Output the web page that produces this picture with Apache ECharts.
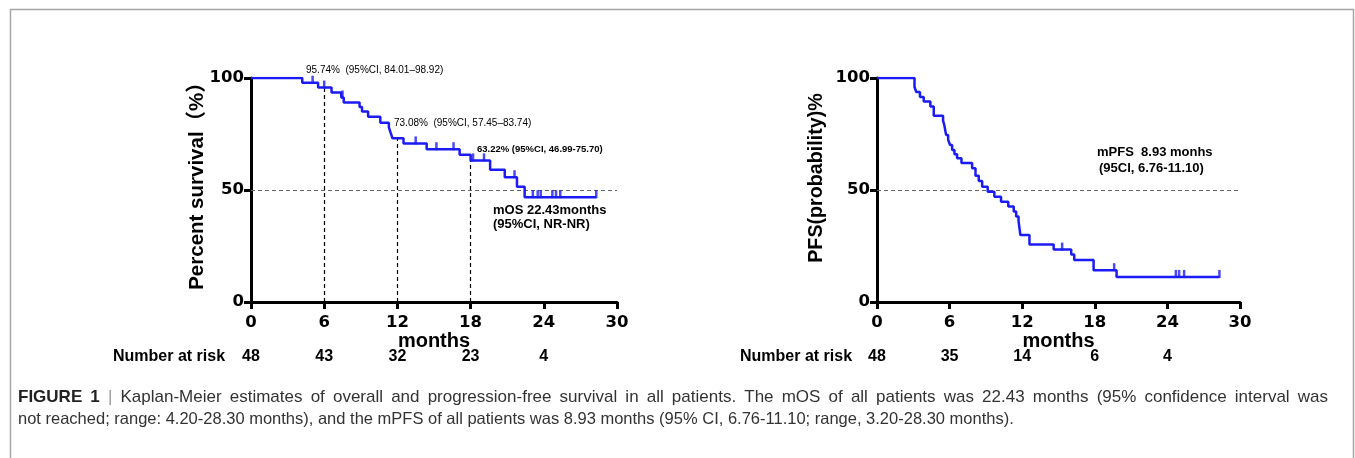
<!DOCTYPE html>
<html>
<head>
<meta charset="utf-8">
<script src="https://cdn.jsdelivr.net/npm/echarts@6/dist/echarts.min.js"></script>
<style>
  html, body { margin: 0; padding: 0; background: #fff; }
  #main { width: 1355px; height: 458px; }
</style>
</head>
<body>
<div id="main"></div>
<script>
// x axis ticks (months)
var xTicks = [0, 6, 12, 18, 24, 30];

// overall survival: event times and survival after each event
var osTimes = [0, 4.2, 5.5, 6.6, 7.4, 7.6, 8.9, 9.1, 9.6, 10.6, 11.3, 11.45, 11.6, 12.5, 14.4, 17.1, 18.0, 19.6, 20.8, 21.8, 22.43];
var osSurv  = [100, 97.9, 95.74, 93.5, 91.3, 89.1, 87.1, 85.0, 82.7, 80.0, 78.0, 75.5, 73.08, 70.8, 68.2, 65.7, 63.22, 59.0, 55.7, 51.5, 46.8];
var osEnd = 28.3;
var osCensor = [5.05, 6.0, 7.5, 13.5, 15.2, 16.6, 18.2, 19.1, 21.6, 23.1, 23.5, 23.75, 24.7, 25.0, 25.35, 28.3];
var osRisk = [48, 43, 32, 23, 4];
// landmark estimates drawn with dashed drops
var osLandmarks = [6, 12, 18];

// progression-free survival
var pfsTimes = [0, 3.1, 3.25, 3.55, 3.86, 4.41, 4.69, 5.46, 5.57, 5.71, 5.88, 6.04, 6.21, 6.4, 6.62, 6.98, 7.86, 8.14, 8.41, 8.69, 9.15, 9.7, 10.25, 10.85, 11.3, 11.5, 11.7, 11.85, 12.6, 14.6, 16.05, 16.3, 17.9, 19.8];
var pfsSurv  = [100, 96.0, 93.7, 91.5, 89.5, 87.3, 83.1, 81.0, 78.8, 74.6, 72.4, 70.1, 67.9, 66.0, 64.2, 62.0, 59.7, 56.4, 54.0, 51.5, 49.2, 47.0, 44.8, 42.6, 40.4, 38.2, 36.0, 29.9, 25.7, 23.4, 21.2, 18.7, 14.2, 11.2];
var pfsEnd = 28.3;
var pfsCensor = [15.3, 19.6, 24.7, 24.97, 25.38, 28.3];
var pfsRisk = [48, 35, 14, 6, 4];

var BLUE = '#1b1bf5';
var FONT = 'Liberation Sans, Arial, Noto Sans CJK SC, sans-serif';
var TICKFONT = 'DejaVu Sans, Liberation Sans, sans-serif';

function stepAt(times, surv, t) {
  var v = surv[0];
  for (var i = 0; i < times.length; i++) {
    if (times[i] <= t) v = surv[i];
  }
  return v;
}

function curve(times, surv, end) {
  var d = times.map(function (t, i) { return [t, surv[i]]; });
  d.push([end, surv[surv.length - 1]]);
  return d;
}

function censorPts(times, surv, list) {
  return list.map(function (t) { return [t, stepAt(times, surv, t)]; });
}

function xAxisOf(gi) {
  return {
    gridIndex: gi, type: 'value', min: 0, max: 30, interval: 6,
    name: 'months', nameLocation: 'middle', nameGap: 29,
    nameTextStyle: { fontFamily: FONT, fontWeight: 'bold', fontSize: 20, color: '#000' },
    axisLine: { lineStyle: { color: '#000', width: 3 } },
    axisTick: { length: 7, lineStyle: { color: '#000', width: 3 } },
    axisLabel: { fontFamily: TICKFONT, fontWeight: 'bold', fontSize: 16.5, color: '#000', margin: 12 },
    splitLine: { show: false }
  };
}

function yAxisOf(gi) {
  return {
    gridIndex: gi, type: 'value', min: 0, max: 100, interval: 50,
    axisLine: { lineStyle: { color: '#000', width: 3 } },
    axisTick: { length: 7, lineStyle: { color: '#000', width: 3 } },
    axisLabel: { fontFamily: TICKFONT, fontWeight: 'bold', fontSize: 16.5, color: '#000', margin: 7 },
    splitLine: { show: false }
  };
}

var half = [[{ coord: [0, 50], lineStyle: { color: '#666', type: [4, 3], width: 1 } }, { coord: [30, 50] }]];

var osDrops = osLandmarks.map(function (t) {
  return [{ coord: [t, 0], lineStyle: { color: '#000', type: [4, 3], width: 1.2 } },
          { coord: [t, stepAt(osTimes, osSurv, t)] }];
});

var option = {
  backgroundColor: '#fff',
  animation: false,
  grid: [
    { left: 251, top: 78, width: 366, height: 224, outerBoundsMode: 'none' },
    { left: 877, top: 78, width: 363, height: 224, outerBoundsMode: 'none' }
  ],
  xAxis: [xAxisOf(0), xAxisOf(1)],
  yAxis: [yAxisOf(0), yAxisOf(1)],
  series: [
    {
      type: 'line', xAxisIndex: 0, yAxisIndex: 0, step: 'end', symbol: 'none',
      data: curve(osTimes, osSurv, osEnd), z: 3,
      lineStyle: { color: BLUE, width: 2.5 },
      markLine: { silent: true, symbol: ['none', 'none'], label: { show: false }, data: half.concat(osDrops), z: 1 }
    },
    {
      type: 'scatter', xAxisIndex: 0, yAxisIndex: 0, symbol: 'rect', symbolSize: [2.5, 8], symbolOffset: [0, -3],
      itemStyle: { color: BLUE }, data: censorPts(osTimes, osSurv, osCensor), z: 4
    },
    {
      type: 'line', xAxisIndex: 1, yAxisIndex: 1, step: 'end', symbol: 'none',
      data: curve(pfsTimes, pfsSurv, pfsEnd), z: 3,
      lineStyle: { color: BLUE, width: 2.5 },
      markLine: { silent: true, symbol: ['none', 'none'], label: { show: false }, data: half, z: 1 }
    },
    {
      type: 'scatter', xAxisIndex: 1, yAxisIndex: 1, symbol: 'rect', symbolSize: [2.5, 8], symbolOffset: [0, -3],
      itemStyle: { color: BLUE }, data: censorPts(pfsTimes, pfsSurv, pfsCensor), z: 4
    }
  ]
};

var chart = echarts.init(document.getElementById('main'));
chart.setOption(option);

// graphic overlays: axis titles, annotations, risk table, caption, frame
var g = [];
function txt(x, y, s, size, weight, extra) {
  var st = { text: s, fontFamily: FONT, fontSize: size, fontWeight: weight || 'normal', fill: '#000', textVerticalAlign: 'middle' };
  var el = { type: 'text', x: x, y: y, style: st, z: 10 };
  if (extra) for (var k in extra) {
    if (k === 'rotation') el.rotation = extra[k]; else st[k] = extra[k];
  }
  g.push(el);
}

txt(197, 181, 'Percent survival（%）', 20.5, 'bold', { textAlign: 'center', rotation: Math.PI / 2 });
txt(817, 178, 'PFS(probability)%', 19.7, 'bold', { textAlign: 'center', rotation: Math.PI / 2 });

txt(306, 70, '95.74%  (95%CI, 84.01–98.92)', 10);
txt(394, 123, '73.08%  (95%CI, 57.45–83.74)', 10);
txt(477, 149, '63.22% (95%CI, 46.99-75.70)', 9.5, 'bold');
txt(493, 210, 'mOS 22.43months', 13, 'bold');
txt(493, 224, '(95%CI, NR-NR)', 13, 'bold');
txt(1097, 152, 'mPFS  8.93 monhs', 13, 'bold');
txt(1099, 168, '(95CI, 6.76-11.10)', 13, 'bold');

function riskRow(gi, labelX, vals) {
  txt(labelX, 357, 'Number at risk', 16, 'bold');
  vals.forEach(function (v, i) {
    var px = chart.convertToPixel({ xAxisIndex: gi }, xTicks[i]);
    txt(px, 357, String(v), 16, 'bold', { textAlign: 'center' });
  });
}
riskRow(0, 113, osRisk);
riskRow(1, 740, pfsRisk);

// caption, first line justified to the frame width
var ctx = document.createElement('canvas').getContext('2d');
function measure(s, bold, size) {
  ctx.font = (bold ? 'bold ' : '') + size + 'px "Liberation Sans", Arial';
  return ctx.measureText(s).width;
}
var CAP1 = 17, CAP2 = 16.5;
var line1 = [['FIGURE', 1], ['1', 1], ['|', 2]].concat(
  'Kaplan-Meier estimates of overall and progression-free survival in all patients. The mOS of all patients was 22.43 months (95% confidence interval was'
    .split(' ').map(function (w) { return [w, 0]; }));
var natural = 0;
line1.forEach(function (w) { natural += measure(w[0], w[1] === 1, CAP1); });
var gap = (1328 - 18 - natural) / (line1.length - 1);
var cx = 18;
line1.forEach(function (w) {
  var col = w[1] === 1 ? '#222' : (w[1] === 2 ? '#999' : '#333');
  txt(cx, 397, w[0], CAP1, w[1] === 1 ? 'bold' : 'normal', { fill: col });
  cx += measure(w[0], w[1] === 1, CAP1) + gap;
});
txt(18, 419, 'not reached; range: 4.20-28.30 months), and the mPFS of all patients was 8.93 months (95% CI, 6.76-11.10; range, 3.20-28.30 months).', CAP2, 'normal', { fill: '#333' });

g.push({ type: 'rect', shape: { x: 10.5, y: 9.5, width: 1343, height: 480 }, style: { fill: 'none', stroke: '#a6a6a6', lineWidth: 1.5 }, z: 0 });

chart.setOption({ graphic: g });
</script>
</body>
</html>
